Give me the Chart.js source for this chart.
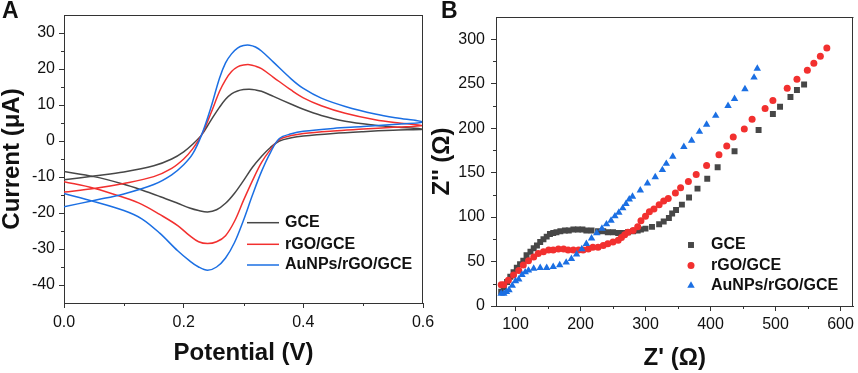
<!DOCTYPE html>
<html>
<head>
<meta charset="utf-8">
<script src="https://cdn.jsdelivr.net/npm/chart.js@4.4.1/dist/chart.umd.min.js"></script>
<style>
  html, body { margin: 0; padding: 0; background: #fff; }
  body { width: 858px; height: 373px; position: relative; overflow: hidden; }
  .panel { position: absolute; top: 0; height: 373px; }
  #pa { left: 0; width: 445px; }
  #pb { left: 430px; width: 428px; }
</style>
</head>
<body>
<div class="panel" id="pa"><canvas id="cvChart"></canvas></div>
<div class="panel" id="pb"><canvas id="eisChart"></canvas></div>
<script>
// series names (same for both panels)
const seriesNames = ["GCE", "rGO/GCE", "AuNPs/rGO/GCE"];

// panel A: cyclic voltammograms, forward and reverse scan
const potentialFwd = [0, 0.05, 0.1, 0.15, 0.18, 0.2, 0.215, 0.23, 0.245, 0.26, 0.27, 0.28, 0.29, 0.3, 0.31, 0.32, 0.33, 0.35, 0.38, 0.4, 0.43, 0.47, 0.52, 0.56, 0.6];
const gceFwd = [-10.8, -9.7, -8.6, -6.9, -5.0, -3.0, -0.9, 1.7, 5.6, 9.4, 11.6, 13.1, 13.9, 14.3, 14.4, 14.2, 13.8, 12.4, 10.2, 8.8, 7.1, 5.5, 4.4, 3.8, 3.3];
const rgoFwd = [-14.2, -13.2, -11.8, -9.9, -7.6, -5.0, -2.2, 1.7, 7.5, 13.8, 17.0, 19.3, 20.6, 21.1, 21.2, 20.8, 20.1, 17.7, 14.1, 12.0, 9.8, 7.7, 5.9, 5.0, 4.3];
const auFwd = [-18.3, -16.5, -14.7, -12.1, -9.4, -6.6, -3.6, 1.7, 9.0, 17.5, 21.7, 24.2, 25.8, 26.5, 26.6, 26.1, 25.0, 21.9, 17.2, 14.6, 11.9, 9.6, 7.5, 6.3, 5.3];

const potentialRev = [0.55, 0.5, 0.45, 0.4, 0.38, 0.36, 0.345, 0.33, 0.315, 0.3, 0.285, 0.27, 0.255, 0.24, 0.225, 0.21, 0.19, 0.16, 0.13, 0.1, 0.05, 0];
const gceRev = [3.0, 2.6, 2.1, 1.4, 0.9, 0.0, -1.8, -4.3, -7.3, -11.0, -14.5, -17.3, -19.1, -19.7, -19.3, -18.6, -17.3, -15.4, -13.6, -12.0, -9.9, -8.5];
const rgoRev = [3.8, 3.3, 2.8, 2.1, 1.5, 0.4, -2.4, -6.0, -11.0, -16.5, -22.3, -26.3, -28.0, -28.5, -28.0, -26.3, -23.5, -20.4, -17.6, -15.7, -13.1, -11.3];
const auRev = [4.6, 4.0, 3.5, 2.7, 2.0, 0.7, -3.2, -8.5, -15.0, -22.0, -28.2, -32.5, -35.0, -35.9, -35.0, -33.3, -30.5, -25.6, -21.6, -19.3, -16.8, -14.6];

const potentialTicks = [0, 0.2, 0.4, 0.6];
const currentTicks = [-40, -30, -20, -10, 0, 10, 20, 30];

// panel B: Nyquist plots
const gceZre = [78, 82, 87, 92, 97, 102, 107, 112, 117, 123, 128, 133, 138, 143, 148, 153, 158, 163, 169, 176, 182, 189, 196, 203, 209, 217, 227, 235, 242, 250, 258, 265, 273, 281, 288, 293, 300, 310, 321, 328, 336, 341, 347, 356, 367, 380, 395, 411, 437, 474, 496, 507, 523, 533, 544];
const gceZim = [16, 21, 27, 33, 38, 43, 47, 51, 57, 61, 65, 68, 72, 75, 78, 81, 82, 83, 84, 85, 85, 86, 86, 86, 85, 85, 84, 84, 83, 83, 82, 82, 83, 84, 85, 86, 87, 89, 92, 95, 99, 104, 108, 114, 122, 132, 143, 156, 174, 198, 216, 224, 235, 243, 249];
const rgoZre = [78, 82, 89, 97, 105, 112, 120, 128, 135, 143, 151, 158, 166, 174, 181, 189, 197, 204, 212, 219, 227, 235, 242, 250, 258, 263, 268, 273, 281, 288, 293, 300, 306, 313, 321, 328, 335, 346, 354, 366, 378, 394, 413, 425, 435, 452, 464, 484, 496, 518, 533, 549, 559, 569, 579];
const rgoZim = [24, 24, 29, 35, 40, 46, 51, 55, 59, 61, 63, 63, 64, 64, 63, 63, 63, 63, 64, 66, 66, 68, 70, 72, 74, 77, 80, 83, 85, 89, 96, 101, 106, 109, 114, 118, 121, 127, 133, 140, 148, 158, 170, 180, 190, 199, 210, 222, 231, 245, 255, 265, 273, 281, 290];
const auZre = [78, 82, 86, 90, 95, 100, 105, 110, 115, 120, 128, 138, 148, 158, 168, 178, 186, 194, 202, 209, 217, 225, 233, 240, 247, 253, 259, 265, 270, 275, 280, 292, 303, 315, 326, 332, 342, 359, 371, 383, 394, 408, 427, 437, 453, 467, 472];
const auZim = [14, 14, 16, 18, 23, 28, 30, 35, 38, 40, 42, 43, 43, 44, 46, 49, 53, 58, 64, 70, 76, 82, 87, 92, 96, 101, 105, 110, 115, 120, 123, 130, 138, 145, 153, 160, 168, 179, 186, 196, 204, 214, 225, 233, 244, 257, 267];

const zReTicks = [100, 200, 300, 400, 500, 600];
const zImTicks = [0, 50, 100, 150, 200, 250, 300];

const colors = ["#474747", "#f2302f", "#1b6fe3"];
const FONT = "'Liberation Sans', Arial, sans-serif";

Chart.defaults.font.family = FONT;
Chart.defaults.color = "#111";

function pts(xs, ys) {
  return xs.map((x, i) => ({ x: x, y: ys[i] }));
}

function minorOf(major, min, max) {
  const step = major[1] - major[0];
  const out = [];
  for (let v = major[0] - step / 2; v < max; v += step) {
    if (v > min) out.push(v);
  }
  return out;
}

function drawMarker(ctx, style, x, y, r, color) {
  ctx.fillStyle = color;
  ctx.beginPath();
  if (style === "rect") {
    const s = r * Math.SQRT1_2;
    ctx.rect(x - s, y - s, 2 * s, 2 * s);
  } else if (style === "triangle") {
    ctx.moveTo(x, y - r);
    ctx.lineTo(x + r * 0.866, y + r / 2);
    ctx.lineTo(x - r * 0.866, y + r / 2);
    ctx.closePath();
  } else {
    ctx.arc(x, y, r, 0, Math.PI * 2);
  }
  ctx.fill();
}

// frame, minor ticks, legend and panel letter
const panelDeco = {
  id: "panelDeco",
  afterDraw(chart, args, o) {
    const ctx = chart.ctx, a = chart.chartArea;
    const sx = chart.scales.x, sy = chart.scales.y;
    ctx.save();
    ctx.strokeStyle = "#333";
    ctx.lineWidth = 1;
    ctx.beginPath();
    ctx.moveTo(a.left, Math.round(a.top) + 0.5);
    ctx.lineTo(a.right, Math.round(a.top) + 0.5);
    ctx.moveTo(Math.round(a.right) - 0.5, a.top);
    ctx.lineTo(Math.round(a.right) - 0.5, a.bottom);
    minorOf(o.xMajor, sx.min, sx.max).forEach(v => {
      const p = Math.round(sx.getPixelForValue(v)) + 0.5;
      ctx.moveTo(p, a.bottom);
      ctx.lineTo(p, a.bottom + 3);
    });
    minorOf(o.yMajor, sy.min, sy.max).forEach(v => {
      const p = Math.round(sy.getPixelForValue(v)) + 0.5;
      ctx.moveTo(a.left, p);
      ctx.lineTo(a.left - 3, p);
    });
    ctx.stroke();

    ctx.font = "bold 16px " + FONT;
    ctx.textBaseline = "middle";
    chart.data.datasets.forEach((ds, i) => {
      const y = o.legend.ys[i];
      if (o.legend.kind === "line") {
        ctx.strokeStyle = ds.borderColor;
        ctx.lineWidth = 1.5;
        ctx.beginPath();
        ctx.moveTo(o.legend.x0, y);
        ctx.lineTo(o.legend.x1, y);
        ctx.stroke();
      } else {
        drawMarker(ctx, ds.pointStyle, o.legend.mx, y, ds.pointRadius, ds.backgroundColor);
      }
      ctx.fillStyle = "#111";
      ctx.fillText(ds.label, o.legend.tx, y);
    });

    ctx.font = "bold 23px " + FONT;
    ctx.textBaseline = "alphabetic";
    ctx.fillStyle = "#111";
    ctx.fillText(o.letter, o.lx, o.ly);
    ctx.restore();
  }
};

function axis(min, max, major, fitKey, fitVal, title, tickPad, fmt) {
  const ticks = { padding: tickPad, maxRotation: 0, autoSkip: false, font: { size: 16 } };
  if (fmt) ticks.callback = fmt;
  return {
    type: "linear",
    min: min,
    max: max,
    afterBuildTicks: s => { s.ticks = major.map(v => ({ value: v })); },
    afterFit: s => { s[fitKey] = fitVal; },
    grid: { drawOnChartArea: false, tickLength: 5, tickColor: "#333" },
    border: { color: "#333", width: 1 },
    ticks: ticks,
    title: title
  };
}

// ---- panel A ----
const cvFwd = [gceFwd, rgoFwd, auFwd];
const cvRev = [gceRev, rgoRev, auRev];

new Chart(document.getElementById("cvChart"), {
  type: "line",
  data: {
    datasets: seriesNames.map((name, i) => ({
      label: name,
      data: pts(potentialFwd, cvFwd[i]).concat(pts(potentialRev, cvRev[i])),
      borderColor: colors[i],
      borderWidth: 1.5,
      pointRadius: 0,
      tension: 0.35,
      fill: false,
      order: 3 - i
    }))
  },
  options: {
    responsive: true,
    maintainAspectRatio: false,
    animation: false,
    devicePixelRatio: 1,
    layout: { padding: { left: 0, top: 15, right: 22, bottom: 0 } },
    plugins: {
      legend: { display: false },
      tooltip: { enabled: false },
      panelDeco: {
        xMajor: potentialTicks, yMajor: currentTicks,
        letter: "A", lx: 2, ly: 18,
        legend: { kind: "line", x0: 247, x1: 279, tx: 285, ys: [222.7, 244.3, 265] }
      }
    },
    scales: {
      x: axis(0, 0.6, potentialTicks, "height", 70,
        { display: true, text: "Potential (V)", font: { size: 24, weight: "bold", lineHeight: 1 }, padding: { top: 0, bottom: 8 } }, 5,
        v => v.toFixed(1)),
      y: axis(-45, 35, currentTicks, "width", 64,
        { display: true, text: "Current (\u03bcA)", font: { size: 24, weight: "bold", lineHeight: 1 }, padding: { top: 0, bottom: 0 } }, 4)
    }
  },
  plugins: [panelDeco]
});

// ---- panel B ----
const eisRe = [gceZre, rgoZre, auZre];
const eisIm = [gceZim, rgoZim, auZim];
const styles = ["rect", "circle", "triangle"];
const radii = [4.2, 3.5, 4.3];

new Chart(document.getElementById("eisChart"), {
  type: "scatter",
  data: {
    datasets: seriesNames.map((name, i) => ({
      label: name,
      data: pts(eisRe[i], eisIm[i]),
      pointStyle: styles[i],
      pointRadius: radii[i],
      backgroundColor: colors[i],
      borderColor: colors[i],
      borderWidth: 0,
      showLine: false,
      order: 3 - i
    }))
  },
  options: {
    responsive: true,
    maintainAspectRatio: false,
    animation: false,
    devicePixelRatio: 1,
    layout: { padding: { left: 0, top: 17, right: 3, bottom: 0 } },
    plugins: {
      legend: { display: false },
      tooltip: { enabled: false },
      panelDeco: {
        xMajor: zReTicks, yMajor: zImTicks,
        letter: "B", lx: 11, ly: 18,
        legend: { kind: "point", mx: 261, tx: 281, ys: [245, 265.5, 285.5] }
      }
    },
    scales: {
      x: axis(70, 620, zReTicks, "height", 67,
        { display: true, text: "Z' (\u03a9)", font: { size: 24, weight: "bold", lineHeight: 1 }, padding: { top: 0, bottom: 3 } }, 4),
      y: axis(0, 325, zImTicks, "width", 66,
        { display: true, text: "Z'' (\u03a9)", font: { size: 24, weight: "bold", lineHeight: 1 }, padding: { top: 0, bottom: 0 } }, 6)
    }
  },
  plugins: [panelDeco]
});
</script>
</body>
</html>
